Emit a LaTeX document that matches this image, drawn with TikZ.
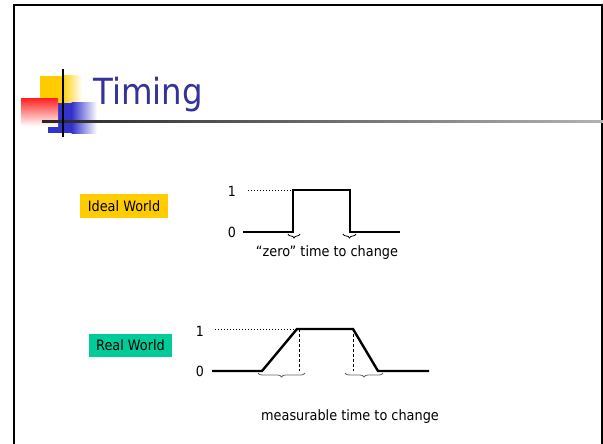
\documentclass[tikz,border=0pt]{standalone}
\usepackage{fontspec}
\setmainfont{DejaVu Sans}[FakeStretch=0.9]
\usetikzlibrary{decorations.pathreplacing}
\definecolor{titleblue}{RGB}{51,51,153}
\definecolor{logoyellow}{RGB}{255,204,0}
\definecolor{logored}{RGB}{255,40,40}
\definecolor{logoblue}{RGB}{51,51,204}
\definecolor{realgreen}{RGB}{0,204,153}
\tikzset{
  signal/.style={line width=2.4pt, line join=miter},
  levelguide/.style={dotted, line width=1pt},
  edgeguide/.style={densely dashed, line width=0.6pt},
  tbrace/.style={decorate, decoration={brace, mirror, amplitude=4pt}, line width=0.8pt},
  level/.style={font=\fontsize{14}{16}\selectfont, inner sep=0pt},
  caption/.style={font=\fontsize{14.3}{16}\selectfont, inner sep=0pt},
  tag/.style={font=\fontsize{14.3}{16}\selectfont, inner sep=0pt, minimum height=24pt, text depth=0pt}
}
\begin{document}
\begin{tikzpicture}[x=1pt,y=-1pt]
\useasboundingbox (0,0) rectangle (603,444);
\fill[white] (0,0) rectangle (603,444);
% slide frame
\draw[line width=2pt] (14,450) -- (14,5) -- (602,5) -- (602,450);

% title decoration
\fill[logoyellow] (40,76) rectangle (62,103);
\shade[left color=logoyellow, right color=white] (61.5,76) rectangle (82,103);
\fill[logoblue] (48,103) rectangle (72,133);
\shade[left color=logoblue, right color=white] (71.5,103) rectangle (97,133);
\shade[shading angle=45, top color=logored, bottom color=white] (21,99) rectangle (58,126);
\shade[left color=black!85, right color=black!30] (42,120.2) rectangle (603,122);
\draw[line width=2pt] (63,69) -- (63,137);
\node[anchor=base west, inner sep=0pt, text=titleblue, font=\fontsize{36}{40}\selectfont] (title) at (93,104) {Timing};

% ideal world
\node[tag, fill=logoyellow, minimum width=88pt] (ideal) at (124,206) {Ideal World};
\coordinate (i0) at (243,232);
\coordinate (ir) at (293,232);
\coordinate (irt) at (293,190);
\coordinate (ift) at (350,190);
\coordinate (if) at (350,232);
\coordinate (ie) at (400,232);
\coordinate (id) at (248,190);
\node[level] (ione) at (232,191) {1};
\node[level] (izero) at (232,232) {0};
\draw[levelguide] (id) -- (irt);
\draw[signal] (i0) -- (ir) -- (irt) -- (ift) -- (if) -- (ie);
\draw[tbrace] (288,234) -- (300,234);
\draw[tbrace] (343,234) -- (356,234);
\node[caption] (zero) at (327,253) {“zero” time to change};

% real world
\node[tag, fill=realgreen, minimum width=83pt, minimum height=23pt] (real) at (130.5,345.5) {Real World};
\coordinate (r0) at (212,371);
\coordinate (rr) at (262,371);
\coordinate (rrt) at (297,329);
\coordinate (rft) at (353,329);
\coordinate (rf) at (378,371);
\coordinate (re) at (429,371);
\coordinate (rd) at (215,329);
\node[level] (rone) at (200,331) {1};
\node[level] (rzero) at (200,371) {0};
\draw[levelguide] (rd) -- (rrt);
\draw[edgeguide] (299,329) -- (299,371);
\draw[edgeguide] (353,329) -- (353,371);
\draw[signal] (r0) -- (rr) -- (rrt) -- (rft) -- (rf) -- (re);
\draw[tbrace, black!60] (258,373) -- (305,373);
\draw[tbrace, black!60] (345,373) -- (383,373);
\node[caption] (meas) at (350,417) {measurable time to change};
\end{tikzpicture}
\end{document}
